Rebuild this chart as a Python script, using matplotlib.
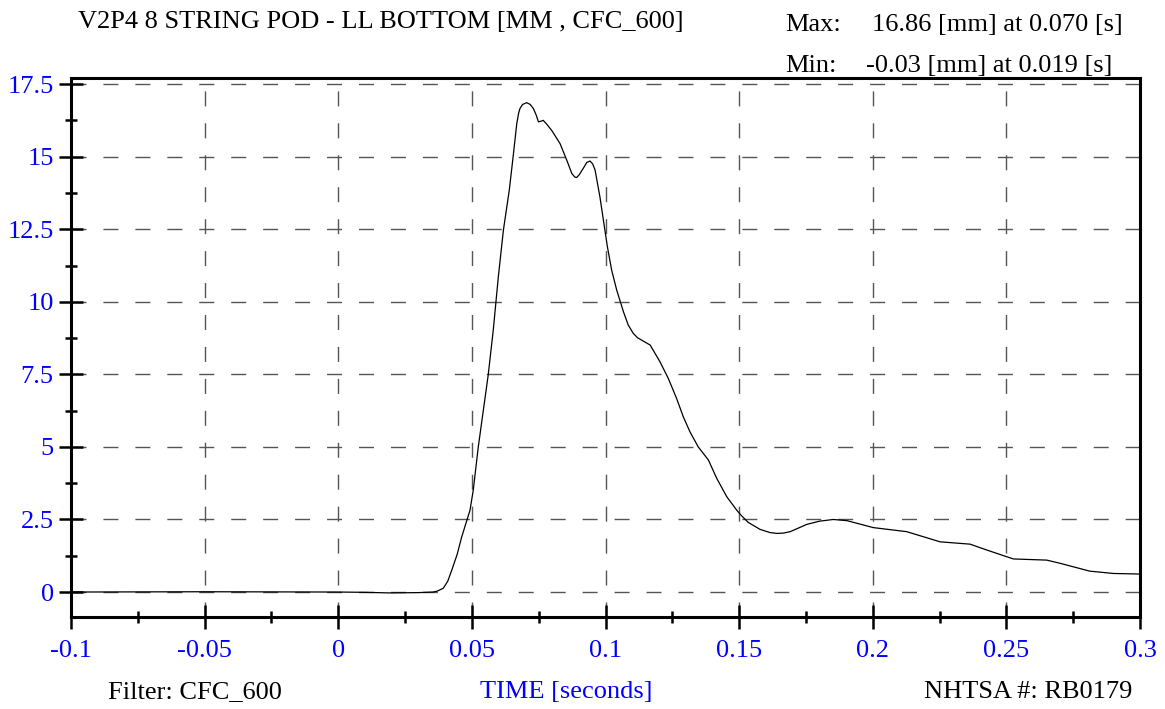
"""Recreate the NHTSA LL bottom displacement plot."""

import matplotlib
matplotlib.use("Agg")
from matplotlib import pyplot as plt
from matplotlib.ticker import FixedLocator, FixedFormatter

# time [s] and displacement [mm]
time_s = [
    -0.1, -0.05, 0.0, 0.01, 0.019, 0.03, 0.0355, 0.037, 0.0393, 0.041,
    0.0425, 0.0445, 0.0462, 0.0493, 0.0505, 0.0524, 0.0543, 0.0561, 0.058,
    0.0599, 0.0618, 0.064, 0.0655, 0.0668, 0.0675, 0.068, 0.069, 0.0705,
    0.0718, 0.073, 0.074, 0.0749, 0.0758, 0.0767, 0.078, 0.0799, 0.083,
    0.0855, 0.0874, 0.0885, 0.0892, 0.0902, 0.0917, 0.093, 0.0942, 0.0952,
    0.0961, 0.0979, 0.0994, 0.1007, 0.1023, 0.1042, 0.1067, 0.1085, 0.1104,
    0.112, 0.1135, 0.1167, 0.1204, 0.1235, 0.1266, 0.1291, 0.1316, 0.1347,
    0.1385, 0.1416, 0.1454, 0.1491, 0.151, 0.1534, 0.1578, 0.1615, 0.1641,
    0.1665, 0.1691, 0.1753, 0.18, 0.1852, 0.1903, 0.2002, 0.2127, 0.2252,
    0.2364, 0.2426, 0.2526, 0.2651, 0.2701, 0.2812, 0.29, 0.3,
]
disp_mm = [
    0.0, 0.01, 0.0, -0.01, -0.03, -0.02, 0.0, 0.03, 0.13, 0.38,
    0.76, 1.3, 1.9, 2.82, 3.5, 5.0, 6.27, 7.47, 9.02,
    10.86, 12.47, 13.85, 15.05, 16.14, 16.5, 16.66, 16.8, 16.86,
    16.8, 16.66, 16.45, 16.2, 16.22, 16.25, 16.12, 15.9, 15.45,
    14.88, 14.42, 14.3, 14.28, 14.38, 14.6, 14.8, 14.85, 14.75,
    14.54, 13.62, 12.7, 11.9, 11.09, 10.4, 9.66, 9.2, 8.91,
    8.76, 8.68, 8.51, 7.93, 7.36, 6.67, 6.04, 5.52, 5.0,
    4.55, 3.92, 3.28, 2.82, 2.62, 2.4, 2.16, 2.05, 2.02,
    2.03, 2.08, 2.33, 2.44, 2.5, 2.46, 2.22, 2.08, 1.73,
    1.65, 1.45, 1.14, 1.10, 0.99, 0.72, 0.64, 0.62,
]

x_ticks = [-0.1, -0.05, 0.0, 0.05, 0.1, 0.15, 0.2, 0.25, 0.3]
x_labels = ["-0.1", "-0.05", "0", "0.05", "0.1", "0.15", "0.2", "0.25", "0.3"]
x_minor = [-0.075, -0.025, 0.025, 0.075, 0.125, 0.175, 0.225, 0.275]
y_ticks = [0, 2.5, 5, 7.5, 10, 12.5, 15, 17.5]
y_labels = ["0", "2.5", "5", "7.5", "10", "12.5", "15", "17.5"]
y_minor = [1.25, 3.75, 6.25, 8.75, 11.25, 13.75, 16.25]

W, H = 1165, 709
BLUE = "#0000ff"
FS = 19

plt.rcParams["font.family"] = ["Liberation Serif", "DejaVu Serif"]
plt.rcParams["axes.unicode_minus"] = False

fig = plt.figure(figsize=(W / 100, H / 100), dpi=100)
ax = fig.add_axes([71 / W, 1 - 617 / H, (1140 - 71) / W, (617 - 78) / H])

ax.plot(time_s, disp_mm, color="black", lw=0.9)
ax.set_xlim(-0.1, 0.3)
ax.set_ylim(-0.86, 17.71)

ax.xaxis.set_major_locator(FixedLocator(x_ticks))
ax.xaxis.set_major_formatter(FixedFormatter(x_labels))
ax.xaxis.set_minor_locator(FixedLocator(x_minor))
ax.yaxis.set_major_locator(FixedLocator(y_ticks))
ax.yaxis.set_major_formatter(FixedFormatter(y_labels))
ax.yaxis.set_minor_locator(FixedLocator(y_minor))

ax.tick_params(which="major", direction="inout", length=17, width=1.8,
               labelsize=FS, labelcolor=BLUE)
ax.tick_params(which="minor", direction="inout", length=8.5, width=1.8)
ax.tick_params(axis="x", which="major", pad=8)
ax.tick_params(axis="y", which="major", pad=4)

for spine in ax.spines.values():
    spine.set_linewidth(2.2)

ax.grid(True, which="major", color="#555555", lw=1.0, dashes=(10.8, 12.2))


def px(x, y):
    return x / W, 1 - y / H


fig.text(*px(78, 28), "V2P4 8 STRING POD - LL BOTTOM [MM , CFC_600]",
         fontsize=FS, va="baseline", ha="left")
fig.text(*px(785, 31), "Max:", fontsize=FS, va="baseline", ha="left")
fig.text(*px(872, 31), "16.86 [mm] at 0.070 [s]", fontsize=FS,
         va="baseline", ha="left")
fig.text(*px(785, 72), "Min:", fontsize=FS, va="baseline", ha="left")
fig.text(*px(866, 72), "-0.03 [mm] at 0.019 [s]", fontsize=FS,
         va="baseline", ha="left")
fig.text(*px(108, 698), "Filter: CFC_600", fontsize=FS, va="baseline",
         ha="left")
fig.text(*px(566, 698), "TIME [seconds]", fontsize=FS, va="baseline",
         ha="center", color=BLUE)
fig.text(*px(1132, 698), "NHTSA #: RB0179", fontsize=FS, va="baseline",
         ha="right")

fig.savefig("out.png", dpi=100)
